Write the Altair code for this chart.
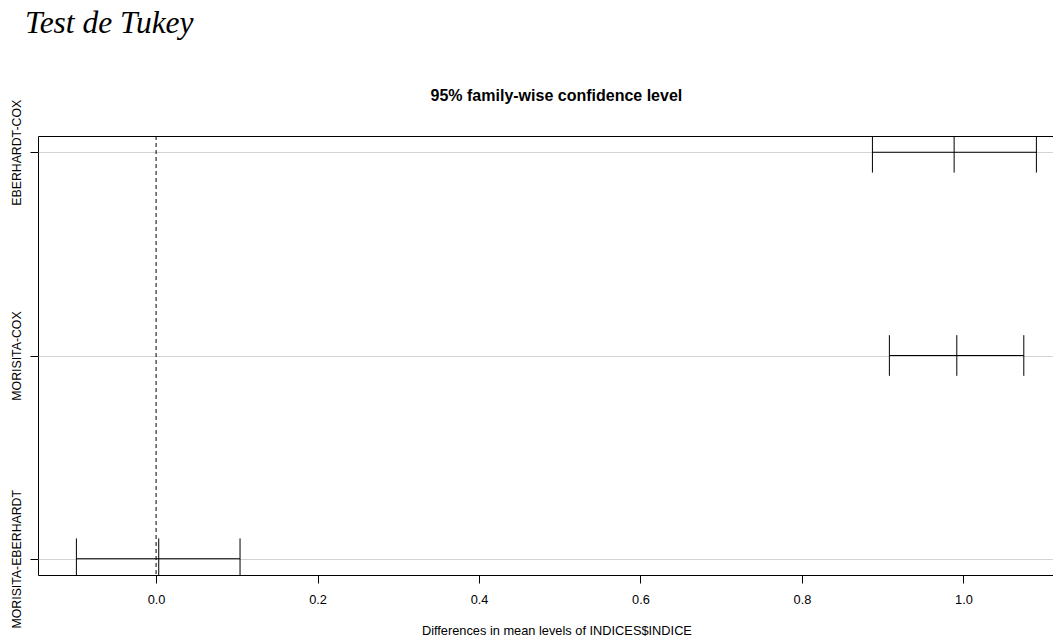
import altair as alt
import pandas as pd

# ---- data ----
comparisons = ["EBERHARDT-COX", "MORISITA-COX", "MORISITA-EBERHARDT"]
positions = [3, 2, 1]
diff = [0.9885, 0.9918, 0.0033]
lwr = [0.8873, 0.9083, -0.0987]
upr = [1.0904, 1.0748, 0.1040]
x_ticks = [0.0, 0.2, 0.4, 0.6, 0.8, 1.0]

page_title = "Test de Tukey"
plot_title = "95% family-wise confidence level"
x_title = "Differences in mean levels of INDICES$INDICE"

# ---- tables ----
seg = pd.DataFrame({"comp": comparisons, "pos": positions, "lwr": lwr, "upr": upr, "diff": diff})
bars = pd.concat(
    [pd.DataFrame({"comp": comparisons, "pos": positions, "value": v}) for v in (lwr, diff, upr)],
    ignore_index=True,
)
bars["y_lo"] = bars["pos"] - 0.1
bars["y_hi"] = bars["pos"] + 0.1

# R-like axis ranges (4% extension)
lo, hi = min(lwr), max(upr)
xpad = 0.04 * (hi - lo)
x_domain = [lo - xpad, hi + xpad]
ylo, yhi = min(positions), max(positions)
ypad = 0.04 * (yhi - ylo)
y_domain = [ylo - ypad, yhi + ypad]

W, H = 1036.8, 439
PAD_L, PAD_T = 30, 128
SVG_W = 1045

label_expr = ""
for c, p in zip(comparisons, positions):
    label_expr += f"datum.value == {p} ? '{c}' : "
label_expr += "''"

xscale = alt.Scale(domain=x_domain, nice=False, zero=False)
yscale = alt.Scale(domain=y_domain, nice=False, zero=False)

FONT = "Liberation Sans"

x_axis = alt.Axis(
    values=x_ticks, format=".1f", tickSize=8, tickColor="black", domain=False, grid=False,
    labelFont=FONT, labelFontSize=12.8, labelColor="black", labelPadding=10,
    title=x_title, titleFont=FONT, titleFontSize=12.8, titleFontWeight="normal",
    titleColor="black", titleY=59, titleBaseline="alphabetic",
)
y_axis = alt.Axis(
    values=positions, labelExpr=label_expr, labelAngle=270, labelAlign="center",
    labelBaseline="bottom", labelPadding=7, tickSize=8, tickColor="black", domain=False,
    grid=True, gridColor="#D3D3D3", gridWidth=1,
    labelFont=FONT, labelFontSize=12.3, labelColor="black", title=None,
)

segments = alt.Chart(seg).mark_rule(color="black", strokeWidth=1, clip=True).encode(
    x=alt.X("lwr:Q", scale=xscale, axis=x_axis),
    x2="upr:Q",
    y=alt.Y("pos:Q", scale=yscale, axis=y_axis),
)

zero_line = alt.Chart(pd.DataFrame({"lwr": [0.0]})).mark_rule(
    color="black", strokeWidth=1, strokeDash=[4, 3]
).encode(x=alt.X("lwr:Q", scale=xscale, axis=x_axis))

ticks = alt.Chart(bars).mark_rule(color="black", strokeWidth=1, clip=True).encode(
    x=alt.X("value:Q", scale=xscale, axis=x_axis),
    y=alt.Y("y_lo:Q", scale=yscale, axis=y_axis),
    y2="y_hi:Q",
)

title_txt = alt.Chart(pd.DataFrame({"t": [plot_title]})).mark_text(
    font=FONT, fontSize=16, fontWeight="bold", color="black", align="center", baseline="alphabetic"
).encode(text="t:N", x=alt.value(W / 2), y=alt.value(-35))

page_txt = alt.Chart(pd.DataFrame({"t": [page_title]})).mark_text(
    font="Liberation Serif", fontSize=31.5, fontStyle="italic", color="black", align="left", baseline="alphabetic"
).encode(text="t:N", x=alt.value(-13), y=alt.value(-103.5))

chart = (
    alt.layer(segments, zero_line, ticks, title_txt, page_txt)
    .properties(
        width=W, height=H,
        padding={"left": PAD_L, "top": PAD_T, "right": SVG_W - PAD_L - W, "bottom": 70},
        autosize=alt.AutoSizeParams(type="none"),
        background="white",
    )
    .configure_view(stroke="black", strokeWidth=1)
)

chart.save("out.html", embed_options={"renderer": "svg", "actions": False})
